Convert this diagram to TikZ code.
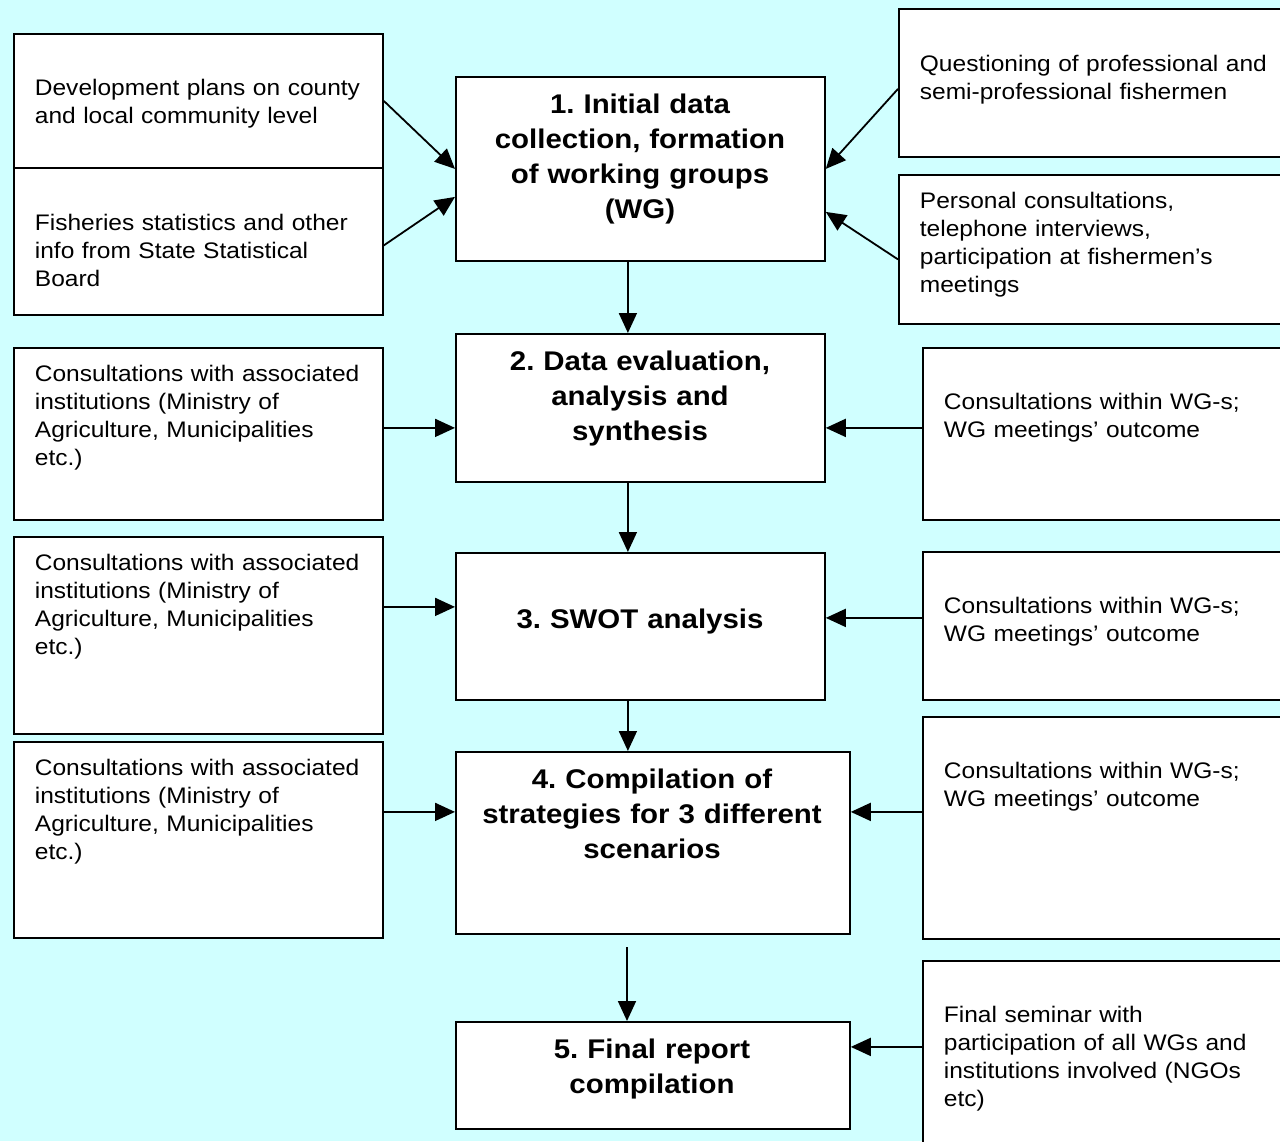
\documentclass[tikz,border=0pt]{standalone}
\usepackage{fontspec}
\setmainfont{Liberation Sans}[FakeStretch=1.09]
\usepackage{tikz}
\usetikzlibrary{calc}
\usetikzlibrary{arrows.meta}
\definecolor{bgcyan}{RGB}{208,255,255}
\frenchspacing

\begin{document}
\begin{tikzpicture}[x=1pt,y=-1pt,>={Triangle[length=20pt,width=18pt]},line width=1.8pt,
 box/.style={draw,fill=white,anchor=north west,inner sep=0pt},
 note/.style={anchor=base west,inner sep=0pt,text width=380pt,align=left,font=\fontsize{22.5}{28}\selectfont},
 stagetext/.style={anchor=base,inner sep=0pt,text width=390pt,align=center,font=\bfseries\fontsize{27}{35}\selectfont}, ]

 \useasboundingbox (0,0) rectangle (1280,1141);
 \fill[bgcyan] (0,0) rectangle (1280,1141);
 \clip (0,0) rectangle (1280,1141);

 % left column
 \node[box,minimum width=369pt,minimum height=134pt] (l1a) at (13,33) {};
 \node[box,minimum width=369pt,minimum height=147pt] (l1b) at (13,167) {};
 \node[box,minimum width=369pt,minimum height=172pt] (l2) at (13,347) {};
 \node[box,minimum width=369pt,minimum height=197pt] (l3) at (13,536) {};
 \node[box,minimum width=369pt,minimum height=196pt] (l4) at (13,741) {};

 % stages
 \node[box,minimum width=369pt,minimum height=184pt] (s1) at (455,76) {};
 \node[box,minimum width=369pt,minimum height=148pt] (s2) at (455,333) {};
 \node[box,minimum width=369pt,minimum height=147pt] (s3) at (455,552) {};
 \node[box,minimum width=394pt,minimum height=182pt] (s4) at (455,751) {};
 \node[box,minimum width=394pt,minimum height=107pt] (s5) at (455,1021) {};

 % right column
 \node[box,minimum width=400pt,minimum height=148pt] (r1a) at (898,8) {};
 \node[box,minimum width=400pt,minimum height=149pt] (r1b) at (898,174) {};
 \node[box,minimum width=400pt,minimum height=172pt] (r2) at (922,347) {};
 \node[box,minimum width=400pt,minimum height=148pt] (r3) at (922,551) {};
 \node[box,minimum width=400pt,minimum height=222pt] (r4) at (922,716) {};
 \node[box,minimum width=400pt,minimum height=200pt] (r5) at (922,960) {};

 \node[note] (l1a-t) at (34,95) {Development plans on county\\and local community level};
 \node[note] (l1b-t) at (34,230) {Fisheries statistics and other\\info from State Statistical\\Board};
 \node[note] (l2-t) at (34,381) {Consultations with associated\\institutions (Ministry of\\Agriculture, Municipalities\\etc.)};
 \node[note] (l3-t) at (34,570) {Consultations with associated\\institutions (Ministry of\\Agriculture, Municipalities\\etc.)};
 \node[note] (l4-t) at (34,775) {Consultations with associated\\institutions (Ministry of\\Agriculture, Municipalities\\etc.)};

 \node[stagetext] (s1-t) at (640,113) {1. Initial data\\collection, formation\\of working groups\\(WG)};
 \node[stagetext] (s2-t) at (640,370) {2. Data evaluation,\\analysis and\\synthesis};
 \node[stagetext] (s3-t) at (640,628) {3. SWOT analysis};
 \node[stagetext] (s4-t) at (652,788) {4. Compilation of\\strategies for 3 different\\scenarios};
 \node[stagetext] (s5-t) at (652,1058) {5. Final report\\compilation};

 \node[note] (r1a-t) at (919,71) {Questioning of professional and\\semi-professional fishermen};
 \node[note] (r1b-t) at (919,208) {Personal consultations,\\telephone interviews,\\participation at fishermen's\\meetings};
 \node[note] (r2-t) at (943,409) {Consultations within WG-s;\\WG meetings' outcome};
 \node[note] (r3-t) at (943,613) {Consultations within WG-s;\\WG meetings' outcome};
 \node[note] (r4-t) at (943,778) {Consultations within WG-s;\\WG meetings' outcome};
 \node[note] (r5-t) at (943,1022) {Final seminar with\\participation of all WGs and\\institutions involved (NGOs\\etc)};

 \draw[->] (l1a.east) -- (s1.west);
 \draw[->] ([yshift=-4pt]l1b.east) -- ([yshift=-28pt]s1.west);
 \draw[->] ([yshift=-6pt]r1a.west) -- (s1.east);
 \draw[->] ([yshift=-10pt]r1b.west) -- ([yshift=-43pt]s1.east);

 \draw[->] ([xshift=-12.5pt]s1.south) -- ([xshift=-12.5pt]s2.north);
 \draw[->] ([xshift=-12.5pt]s2.south) -- ([xshift=-12.5pt]s3.north);
 \draw[->] ([xshift=-12.5pt]s3.south) -- ([xshift=-12.5pt]s3.south |- s4.north);
 \coordinate (c45) at (627,947);
 \draw[->] (c45) -- (c45 |- s5.north);

 \draw[->] ([yshift=6pt]l2.east) -- ([yshift=6pt]l2.east -| s2.west);
 \draw[->] ([yshift=6pt]r2.west) -- ([yshift=6pt]r2.west -| s2.east);
 \draw[->] ([yshift=28.5pt]l3.east) -- ([yshift=28.5pt]l3.east -| s3.west);
 \draw[->] ([yshift=8pt]r3.west) -- ([yshift=8pt]r3.west -| s3.east);
 \draw[->] ([yshift=28pt]l4.east) -- ([yshift=28pt]l4.east -| s4.west);
 \draw[->] ([yshift=16pt]r4.west) -- ([yshift=16pt]r4.west -| s4.east);
 \draw[->] ([yshift=14pt]r5.west) -- ([yshift=14pt]r5.west -| s5.east);

\end{tikzpicture}
\end{document}
